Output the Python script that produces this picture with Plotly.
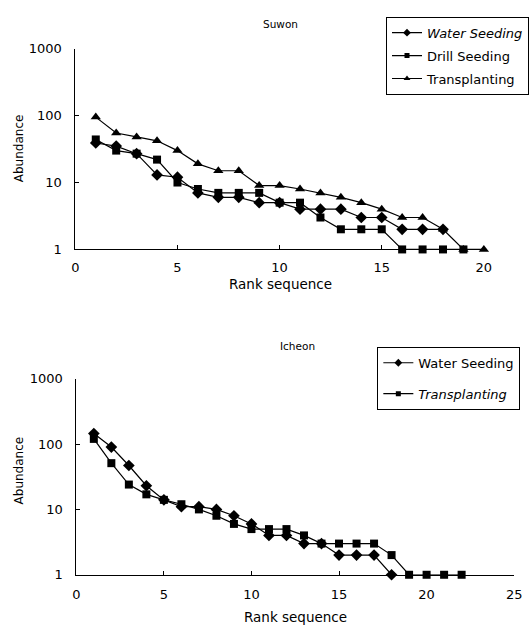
import plotly.graph_objects as go

# Suwon
suwon_water = [39, 35, 27, 13, 12, 7, 6, 6, 5, 5, 4, 4, 4, 3, 3, 2, 2, 2]
suwon_drill = [44, 30, 27, 22, 10, 8, 7, 7, 7, 5, 5, 3, 2, 2, 2, 1, 1, 1, 1]
suwon_trans = [95, 55, 48, 42, 30, 19, 15, 15, 9, 9, 8, 7, 6, 5, 4, 3, 3, 2, 1, 1]

# Icheon
icheon_water = [145, 90, 47, 23, 14, 11, 11, 10, 8, 6, 4, 4, 3, 3, 2, 2, 2, 1]
icheon_trans = [120, 51, 24, 17, 14, 12, 10, 8, 6, 5, 5, 5, 4, 3, 3, 3, 3, 2, 1, 1, 1, 1]

y_ticks = [1, 10, 100, 1000]
x_ticks_top = [0, 5, 10, 15, 20]
x_ticks_bot = [0, 5, 10, 15, 20, 25]

FONT = "DejaVu Sans, Liberation Sans, sans-serif"

def rank(v):
    return list(range(1, len(v) + 1))

fig = go.Figure()

def add(vals, name, symbol, size, xa, ya, legend, group):
    # data trace
    fig.add_trace(go.Scatter(
        x=rank(vals), y=vals, name=name, mode="lines+markers",
        line=dict(color="black", width=1.2),
        marker=dict(symbol=symbol, size=size, color="black"),
        xaxis=xa, yaxis=ya, showlegend=False, legendgroup=group,
        cliponaxis=False,
    ))
    # legend entry with smaller marker
    fig.add_trace(go.Scatter(
        x=[None], y=[None], name=name, mode="lines+markers",
        line=dict(color="black", width=1.2),
        marker=dict(symbol=symbol, size=size - 3, color="black"),
        xaxis=xa, yaxis=ya, legend=legend, legendgroup=group,
        hoverinfo="skip",
    ))

add(suwon_water, "<i>Water Seeding</i>", "diamond", 9, "x", "y", "legend", "a")
add(suwon_drill, "Drill Seeding", "square", 8, "x", "y", "legend", "b")
add(suwon_trans, "Transplanting", "triangle-up", 9, "x", "y", "legend", "c")
add(icheon_water, "Water Seeding", "diamond", 9, "x2", "y2", "legend2", "d")
add(icheon_trans, "<i>Transplanting</i>", "square", 8, "x2", "y2", "legend2", "e")

axis_common = dict(
    showline=True, linecolor="black", linewidth=1,
    ticks="inside", ticklen=4, tickcolor="black",
    showgrid=False, zeroline=False,
    tickfont=dict(family=FONT, size=13, color="black"),
)

def ann(text, x, y, size, angle=0):
    return dict(text=text, x=x/529, y=1-y/635, xref="paper", yref="paper",
                xanchor="center", yanchor="middle", showarrow=False,
                textangle=angle, font=dict(size=size))

fig.update_layout(
    width=529, height=635,
    margin=dict(l=0, r=0, t=0, b=0),
    paper_bgcolor="white", plot_bgcolor="white",
    font=dict(family=FONT, size=13, color="black"),
    xaxis=dict(domain=[73/529, 491/529], range=[0, 20], tickvals=x_ticks_top,
               anchor="y", ticklabelstandoff=6, **axis_common),
    yaxis=dict(domain=[1-248.3/635, 1-42.7/635], type="log", range=[0, 3],
               tickvals=y_ticks, ticktext=[str(t) for t in y_ticks],
               anchor="x", ticklabelstandoff=10, **axis_common),
    xaxis2=dict(domain=[74/529, 522/529], range=[0, 25], tickvals=x_ticks_bot,
                anchor="y2", ticklabelstandoff=8, **axis_common),
    yaxis2=dict(domain=[1-581.5/635, 1-380.7/635], type="log", range=[0, 3],
                tickvals=y_ticks, ticktext=[str(t) for t in y_ticks],
                anchor="x2", ticklabelstandoff=10, **axis_common),
    legend=dict(x=391/529, y=1-10/635, xanchor="left", yanchor="top",
                bordercolor="black", borderwidth=1, bgcolor="white",
                tracegroupgap=3, itemwidth=30,
                font=dict(family=FONT, size=13, color="black")),
    legend2=dict(x=382/529, y=1-348/635, xanchor="left", yanchor="top",
                 bordercolor="black", borderwidth=1, bgcolor="white",
                 tracegroupgap=11, itemwidth=30,
                 font=dict(family=FONT, size=13, color="black")),
    annotations=[
        ann("Suwon", 283, 17, 10.5),
        ann("Icheon", 300, 347, 10.5),
        ann("Rank sequence", 283, 284, 13.5),
        ann("Rank sequence", 298, 625, 13.5),
        ann("Abundance", 15, 145, 12, -90),
        ann("Abundance", 15, 475, 12, -90),
    ],
)

fig.write_html("out.html")
